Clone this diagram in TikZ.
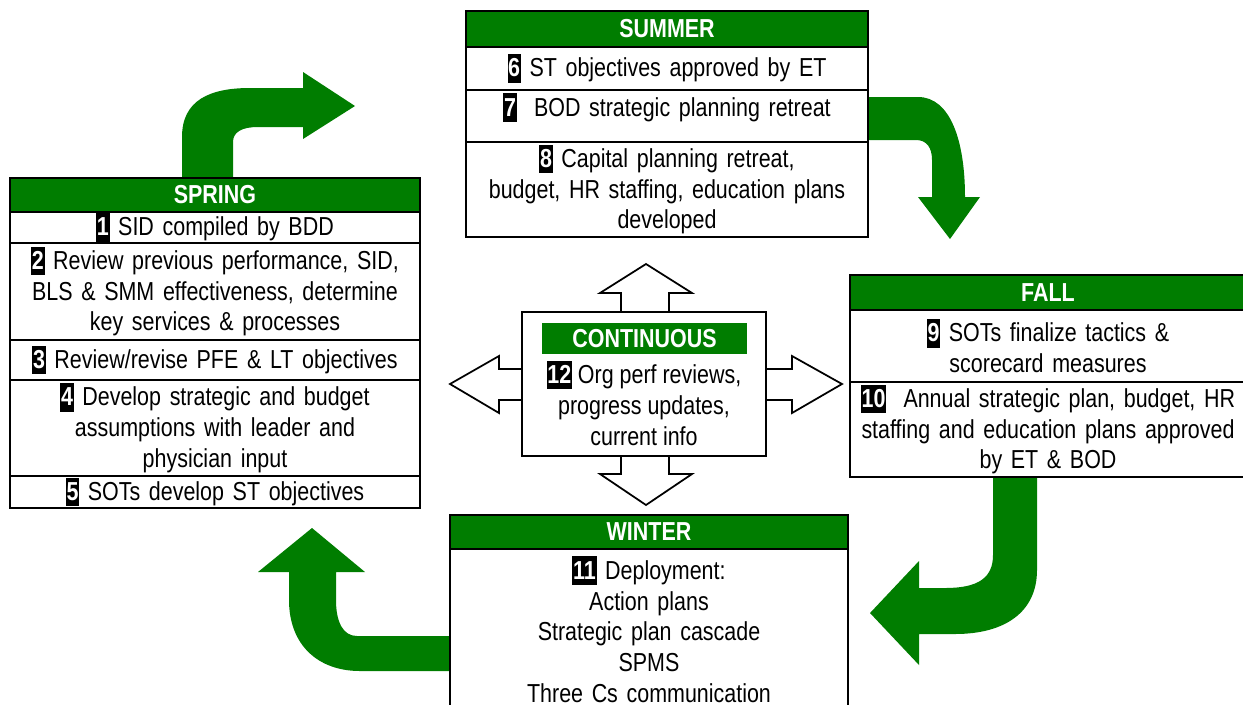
\documentclass[tikz,border=0pt]{standalone}
\usepackage{fontspec}
\setmainfont{Liberation Sans}[FakeStretch=0.825]
\usetikzlibrary{positioning}

% white step number on a black block
\newcommand{\stepno}[1]{{\setlength{\fboxsep}{0.4pt}\colorbox{black}{\rule[-0.2em]{0pt}{1.05em}\textcolor{white}{\bfseries #1}}}}

\begin{document}
\begin{tikzpicture}[x=0.02cm, y=-0.02cm,
    every node/.style={font=\fontsize{14.8}{17.5}\selectfont},
    head/.style={fill=cyclegreen, text=white, font=\fontsize{14.8}{17.5}\selectfont\bfseries, inner sep=0pt, outer sep=0pt},
    seasonhead/.style={head, draw, line width=1.1pt},
    cell/.style={draw, line width=1.1pt, fill=white, align=center, inner sep=0pt, outer sep=0pt},
    flow/.style={fill=cyclegreen},
    blockarrow/.style={draw, line width=1pt, fill=white, line join=miter}]
            % Define colors
            \definecolor{cyclegreen}{RGB}{0, 125, 0}

            % Page area
            \useasboundingbox (0,0) rectangle (1243,704);
            \clip (0,0) rectangle (1243,704);

            % Curved arrows from season to season
            \fill[flow] (182,178) -- (182,137) .. controls (182,100) and (210,88) .. (250,88) -- (303,88) -- (303,72) -- (355,106) -- (303,139) -- (303,127) -- (258,127) .. controls (242,127) and (233,132) .. (233,142) -- (233,178) -- cycle;
            \fill[flow] (868,97) -- (918,97) .. controls (950,97) and (965,140) .. (965,197) -- (980,197) -- (950,239) -- (918,197) -- (932,197) -- (932,160) .. controls (932,148) and (927,140) .. (916,140) -- (868,140) -- cycle;
            \fill[flow] (993,477) -- (1037,477) -- (1037,570) .. controls (1037,612) and (1005,634) .. (955,634) -- (919,634) -- (919,665) -- (870,613) -- (919,561) -- (919,588) -- (945,588) .. controls (978,588) and (993,578) .. (993,555) -- cycle;
            \fill[flow] (450,636) -- (357,636) .. controls (343,636) and (336,622) .. (336,600) -- (336,572) -- (365,572) -- (312,528) -- (258,572) -- (289,572) -- (289,600) .. controls (289,645) and (318,671) .. (360,671) -- (450,671) -- cycle;

            % Open arrows round the continuous box
            \draw[blockarrow] (621,312) -- (621,293) -- (600,293) -- (646,264) -- (692,293) -- (669,293) -- (669,312);
            \draw[blockarrow] (621,456) -- (621,474) -- (600,474) -- (646,505) -- (692,474) -- (669,474) -- (669,456);
            \draw[blockarrow] (522,369) -- (499,369) -- (499,356) -- (450,384) -- (499,413) -- (499,400) -- (522,400);
            \draw[blockarrow] (766,369) -- (792,369) -- (792,356) -- (842,384) -- (792,413) -- (792,400) -- (766,400);

            % Spring
            \node[seasonhead, minimum width=8.2cm, minimum height=0.68cm] (spring) at (215,195) {SPRING};
            \node[cell, text width=8.2cm, minimum height=0.62cm, below=0pt of spring] (spring1) {\stepno{1} SID compiled by BDD};
            \node[cell, text width=8.2cm, minimum height=1.94cm, below=0pt of spring1] (spring2) {\stepno{2} Review previous performance, SID,\\BLS \& SMM effectiveness, determine\\key services \& processes};
            \node[cell, text width=8.2cm, minimum height=0.8cm, below=0pt of spring2] (spring3) {\stepno{3} Review/revise PFE \& LT objectives};
            \node[cell, text width=8.2cm, minimum height=1.92cm, below=0pt of spring3] (spring4) {\stepno{4} Develop strategic and budget\\assumptions with leader and\\physician input};
            \node[cell, text width=8.2cm, minimum height=0.64cm, below=0pt of spring4] (spring5) {\stepno{5} SOTs develop ST objectives};

            % Summer
            \node[seasonhead, minimum width=8.04cm, minimum height=0.72cm] (summer) at (667,29) {SUMMER};
            \node[cell, text width=8.04cm, minimum height=0.86cm, below=0pt of summer] (summer6) {\stepno{6} ST objectives approved by ET};
            \node[cell, text width=8.04cm, minimum height=1.04cm, text depth=0.45cm, below=0pt of summer6] (summer7) {\stepno{7}~~BOD strategic planning retreat};
            \node[cell, text width=8.04cm, minimum height=1.9cm, below=0pt of summer7] (summer8) {\stepno{8} Capital planning retreat,\\budget, HR staffing, education plans\\developed};

            % Fall
            \node[seasonhead, minimum width=7.92cm, minimum height=0.7cm] (fall) at (1048,292.5) {FALL};
            \node[cell, text width=7.92cm, minimum height=1.44cm, below=0pt of fall] (fall9) {\stepno{9} SOTs finalize tactics \&\\scorecard measures};
            \node[cell, text width=7.92cm, minimum height=1.9cm, below=0pt of fall9] (fall10) {\stepno{10}~~Annual strategic plan, budget, HR\\staffing and education plans approved\\by ET \& BOD};

            % Winter
            \node[seasonhead, minimum width=7.96cm, minimum height=0.68cm] (winter) at (649,532) {WINTER};
            \node[cell, text width=7.96cm, minimum height=3.22cm, below=0pt of winter] (winter11) {\stepno{11} Deployment:\\Action plans\\Strategic plan cascade\\SPMS\\Three Cs communication};

            % Continuous
            \node[draw, line width=1.1pt, fill=white, minimum width=4.88cm, minimum height=2.88cm, inner sep=0pt] (cont) at (644,384) {};
            \node[head, minimum width=4.1cm, minimum height=0.62cm] (contlabel) at (644.5,338.5) {CONTINUOUS};
            \node[align=center, inner sep=0pt] (conttext) at (644,403) {\stepno{12} Org perf reviews,\\progress updates,\\current info};
        \end{tikzpicture}
\end{document}
